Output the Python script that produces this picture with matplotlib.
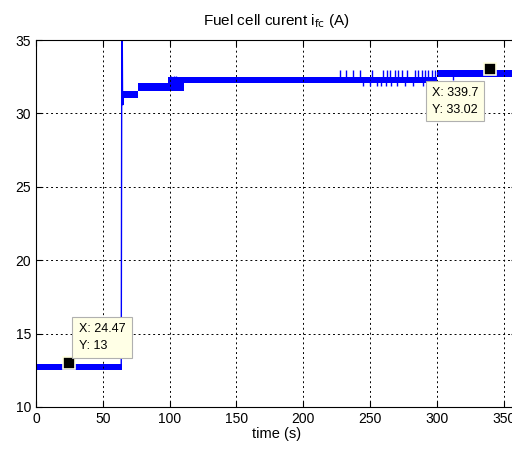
import matplotlib
matplotlib.use("Agg")
import matplotlib.pyplot as plt

plt.rcParams['font.family'] = ['Liberation Sans', 'DejaVu Sans']

# Band segments of the fast-switching current: (t_start, t_end, low, high)
seg_t0 = [0.0, 64.8, 66.0, 76.0, 99.0, 111.0, 300.0]
seg_t1 = [64.0, 66.0, 76.0, 99.0, 111.0, 300.0, 360.0]
seg_lo = [12.5, 30.6, 31.05, 31.5, 31.5, 32.05, 32.5]
seg_hi = [12.9, 31.5, 31.5, 32.1, 32.5, 32.5, 32.95]

# Transition (start-up) trace
trans_t = [63.8, 64.3, 64.8]
trans_i = [12.8, 40.0, 30.6]

# Upward spikes in the steady band
spike_t = [101, 103, 105, 227.5, 232, 237.5, 242.5, 251.3, 260, 262.5, 265, 268.7, 271,
           273.7, 277.5, 283.7, 286, 288.7, 291.2, 293.5, 296.2, 298.8]
spike_lo = [32.3, 32.3, 32.3, 32.4, 32.4, 32.4, 32.4, 32.4, 32.4, 32.4, 32.4, 32.4, 32.4,
            32.4, 32.4, 32.4, 32.4, 32.4, 32.4, 32.4, 32.4, 32.4]
spike_hi = [32.55, 32.55, 32.55, 32.95, 32.95, 32.95, 32.95, 32.95, 32.95, 32.95, 32.95, 32.95, 32.95,
            32.95, 32.95, 32.95, 32.95, 32.95, 32.95, 32.95, 32.95, 32.95]
# Downward spikes
dspike_t = [245, 250, 255, 258, 262, 266, 270, 276, 282, 290, 297, 312]
dspike_lo = [31.9, 31.9, 31.9, 31.9, 31.9, 31.9, 31.9, 31.9, 31.9, 31.9, 31.9, 32.3]
dspike_hi = [32.3, 32.3, 32.3, 32.3, 32.3, 32.3, 32.3, 32.3, 32.3, 32.3, 32.3, 32.6]

# Data tips
tip_x = [24.47, 339.7]
tip_y = [13.0, 33.02]

xticks = [0, 50, 100, 150, 200, 250, 300, 350]
yticks = [10, 15, 20, 25, 30, 35]

blue = '#0000ff'
fig = plt.figure(figsize=(5.12, 4.5), dpi=100)
ax = fig.add_axes([36/512, 43/450, 481/512, 367/450])

for a, b, lo, hi in zip(seg_t0, seg_t1, seg_lo, seg_hi):
    ax.fill_between([a, b], [lo, lo], [hi, hi], color=blue, lw=0)
ax.plot(trans_t, trans_i, color=blue, lw=1)
ax.vlines(spike_t, spike_lo, spike_hi, color=blue, lw=1)
ax.vlines(dspike_t, dspike_lo, dspike_hi, color=blue, lw=1)

ax.set_xlim(0, 360)
ax.set_ylim(10, 35)
ax.set_xticks(xticks)
ax.set_yticks(yticks)
ax.tick_params(direction='in', top=True, right=True, labelsize=10, length=4)
ax.grid(True, color='black', linestyle=(0, (2, 3)), linewidth=0.7)
for s in ax.spines.values():
    s.set_linewidth(0.8)

ax.set_title('Fuel cell curent i$_{\\mathrm{fc}}$ (A)', fontsize=11, pad=11)
ax.set_xlabel('time (s)', fontsize=10.5, labelpad=1)

ax.plot(tip_x, tip_y, 's', color='black', ms=8, mec='#ffffe0', mew=1.2, zorder=6)
ax.annotate(f'X: {tip_x[0]:g}\nY: {tip_y[0]:g}', (tip_x[0], tip_y[0]),
            xytext=(10, 11), textcoords='offset pixels', ha='left', va='bottom', fontsize=9,
            linespacing=1.5,
            bbox=dict(boxstyle='square,pad=0.5', fc='#ffffe6', ec='#b0b0b0', lw=0.8), zorder=7)
ax.annotate(f'X: {tip_x[1]:g}\nY: {tip_y[1]:.2f}', (tip_x[1], tip_y[1]),
            xytext=(-12, -18), textcoords='offset pixels', ha='right', va='top', fontsize=9,
            linespacing=1.5,
            bbox=dict(boxstyle='square,pad=0.45', fc='#ffffe6', ec='#b0b0b0', lw=0.8), zorder=7)

fig.savefig('out.png', dpi=100)
